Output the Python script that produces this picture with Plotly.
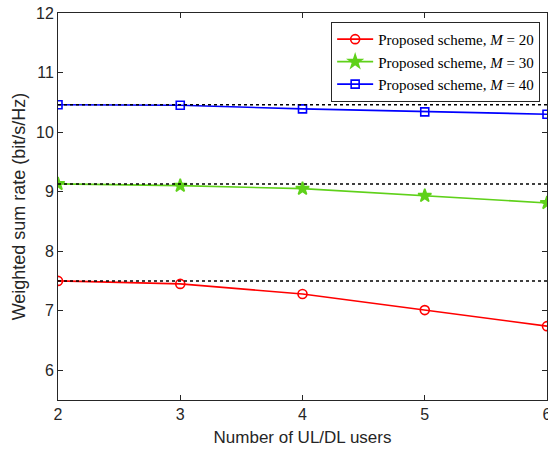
import plotly.graph_objects as go

users = [2, 3, 4, 5, 6]
rate_m20 = [7.50, 7.45, 7.28, 7.01, 6.74]
rate_m30 = [9.13, 9.10, 9.05, 8.93, 8.81]
rate_m40 = [10.46, 10.45, 10.39, 10.34, 10.30]
series_names = ["Proposed scheme, <i>M</i> = 20",
                "Proposed scheme, <i>M</i> = 30",
                "Proposed scheme, <i>M</i> = 40"]
y_ticks = [6, 7, 8, 9, 10, 11, 12]

fig = go.Figure()

styles = [
    (rate_m20, "#FF0000", "circle-open", 9),
    (rate_m30, "#5FD11A", "star", 10),
    (rate_m40, "#0000FF", "square-open", 8),
]
for (vals, color, sym, size), name in zip(styles, series_names):
    fig.add_trace(go.Scatter(
        x=users, y=vals, mode="lines+markers", name=name,
        line=dict(color=color, width=1.6),
        marker=dict(symbol=sym, size=size, color=color,
                    line=dict(color=color, width=1.6)),
    ))

# dotted reference lines at the single-pair value of each series
for vals in (rate_m20, rate_m30, rate_m40):
    fig.add_trace(go.Scatter(
        x=[users[0], users[-1]], y=[vals[0], vals[0]], mode="lines",
        line=dict(color="black", width=1.5, dash="dot"),
        showlegend=False, hoverinfo="skip",
    ))

axis_common = dict(
    showline=True, linecolor="#262626", linewidth=1, mirror="allticks",
    ticks="inside", ticklen=5, tickcolor="#262626", showgrid=False,
    zeroline=False, ticklabeloverflow="allow", automargin=False,
    tickfont=dict(family="Liberation Sans, Arial", size=16, color="#262626"),
)

fig.update_layout(
    width=548, height=449,
    margin=dict(l=58, r=1, t=13, b=49),
    paper_bgcolor="white", plot_bgcolor="white",
    xaxis=dict(range=[2, 6], dtick=1,
               title=dict(text="Number of UL/DL users", standoff=8,
                          font=dict(family="Liberation Sans, Arial", size=17, color="#262626")),
               **axis_common),
    yaxis=dict(range=[5.5, 12], tickvals=y_ticks,
               title=dict(text="Weighted sum rate (bit/s/Hz)", standoff=5,
                          font=dict(family="Liberation Sans, Arial", size=18, color="#262626")),
               **axis_common),
    legend=dict(x=0.986, y=0.977, xanchor="right", yanchor="top",
                bgcolor="white", bordercolor="#262626", borderwidth=1,
                font=dict(family="Liberation Serif, Times New Roman", size=15, color="black"),
                tracegroupgap=0, itemwidth=36),
    showlegend=True,
)

fig.write_html("out.html",
               config={"displayModeBar": False},
               post_script="document.body.style.margin='0px';document.body.style.overflow='hidden';")
